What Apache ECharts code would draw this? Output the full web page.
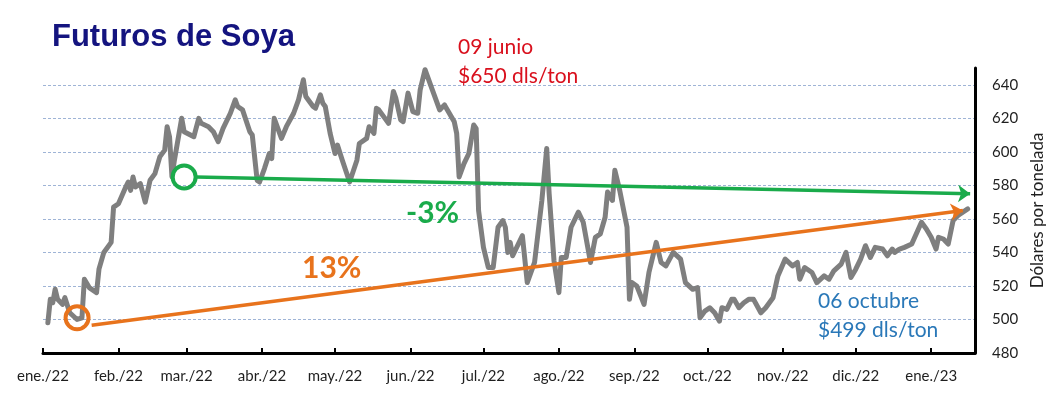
<!DOCTYPE html>
<html>
<head>
<meta charset="utf-8">
<script src="https://cdn.jsdelivr.net/npm/echarts@6/dist/echarts.min.js"></script>
<style>
html,body{margin:0;padding:0;background:#fff;}
#chart{width:1054px;height:399px;}
</style>
</head>
<body>
<div id="chart"></div>
<script>
const monthNames = ['ene.','feb.','mar.','abr.','may.','jun.','jul.','ago.','sep.','oct.','nov.','dic.'];
const yTicks = [480, 500, 520, 540, 560, 580, 600, 620, 640];
const titleText = 'Futuros de Soya';
const yAxisName = 'Dólares por tonelada';

const priceDates = [
'2022-01-03','2022-01-04','2022-01-05','2022-01-06','2022-01-07','2022-01-09','2022-01-10','2022-01-12','2022-01-15','2022-01-17',
'2022-01-18','2022-01-20','2022-01-23','2022-01-24','2022-01-26','2022-01-29','2022-01-30','2022-02-01','2022-02-04','2022-02-05',
'2022-02-06','2022-02-07','2022-02-08','2022-02-10','2022-02-12','2022-02-14','2022-02-16','2022-02-18','2022-02-20','2022-02-21',
'2022-02-22','2022-02-23','2022-02-24','2022-02-27','2022-02-28','2022-03-04','2022-03-06','2022-03-07','2022-03-10','2022-03-12',
'2022-03-14','2022-03-16','2022-03-19','2022-03-21','2022-03-22','2022-03-24','2022-03-27','2022-03-28','2022-03-30','2022-03-31',
'2022-04-02','2022-04-04','2022-04-05','2022-04-06','2022-04-09','2022-04-11','2022-04-14','2022-04-16','2022-04-18','2022-04-19',
'2022-04-22','2022-04-23','2022-04-25','2022-04-26','2022-04-27','2022-04-29','2022-05-01','2022-05-02','2022-05-04','2022-05-07',
'2022-05-10','2022-05-11','2022-05-14','2022-05-15','2022-05-17','2022-05-18','2022-05-19','2022-05-21','2022-05-23','2022-05-25',
'2022-05-26','2022-05-28','2022-05-29','2022-05-31','2022-06-02','2022-06-04','2022-06-05','2022-06-07','2022-06-10','2022-06-13',
'2022-06-15','2022-06-19','2022-06-20','2022-06-21','2022-06-23','2022-06-25','2022-06-27','2022-06-28','2022-06-29','2022-07-01',
'2022-07-03','2022-07-05','2022-07-07','2022-07-09','2022-07-10','2022-07-11','2022-07-12','2022-07-13','2022-07-17','2022-07-19',
'2022-07-22','2022-07-25','2022-07-27','2022-07-28','2022-07-30','2022-08-01','2022-08-02','2022-08-04','2022-08-06','2022-08-09',
'2022-08-11','2022-08-14','2022-08-16','2022-08-18','2022-08-20','2022-08-21','2022-08-23','2022-08-24','2022-08-26','2022-08-29',
'2022-08-30','2022-08-31','2022-09-02','2022-09-05','2022-09-07','2022-09-10','2022-09-12','2022-09-14','2022-09-17','2022-09-20',
'2022-09-22','2022-09-25','2022-09-27','2022-09-28','2022-09-30','2022-10-02','2022-10-04','2022-10-06','2022-10-07','2022-10-09',
'2022-10-11','2022-10-12','2022-10-14','2022-10-16','2022-10-18','2022-10-20','2022-10-23','2022-10-25','2022-10-28','2022-10-30',
'2022-11-02','2022-11-05','2022-11-07','2022-11-08','2022-11-10','2022-11-13','2022-11-15','2022-11-18','2022-11-20','2022-11-22',
'2022-11-25','2022-11-27','2022-11-29','2022-12-01','2022-12-03','2022-12-05','2022-12-07','2022-12-09','2022-12-12','2022-12-14',
'2022-12-16','2022-12-17','2022-12-19','2022-12-21','2022-12-24','2022-12-28','2022-12-30','2023-01-01','2023-01-03','2023-01-04',
'2023-01-06','2023-01-08','2023-01-10','2023-01-12','2023-01-16'
];
const priceValues = [
498,512,510,518,512,509,513,504,500,501,
524,519,516,530,540,546,567,569,579,582,
577,585,579,581,570,583,587,597,601,615,
609,585,595,620,612,609,620,617,615,612,
606,614,623,631,627,625,612,610,583,582,
590,599,596,620,608,615,623,631,643,633,
627,626,634,629,627,611,599,604,595,582,
595,605,608,615,611,626,625,621,617,636,
632,619,618,635,624,623,637,649,637,625,
628,618,611,585,593,599,616,614,565,543,
531,531,555,559,555,540,546,538,550,522,
534,571,602,575,535,516,537,537,555,564,
558,534,549,551,561,576,571,589,577,555,
512,522,520,509,528,546,534,532,540,536,
522,518,519,501,505,507,504,499,507,506,
512,512,507,510,512,512,504,507,513,526,
536,532,534,524,531,528,522,526,524,529,
533,540,525,530,536,544,537,543,542,538,
542,540,542,543,545,558,554,549,542,549,
548,545,559,562,566
];

// Annotation anchors (data coordinates: date, price)
const greenCircle = ['2022-02-28', 585];
const greenArrowFrom = ['2022-03-05', 585];
const greenArrowTo = ['2023-01-17', 575];
const orangeCircle = ['2022-01-15', 501];
const orangeArrowFrom = ['2022-01-21', 496.5];
const orangeArrowTo = ['2023-01-14', 565];

// Category dates (all calendar days on the axis)
const axisStart = '2022-01-01';
const axisEnd = '2023-01-19';
const categories = [];
(function(){
  let d = new Date(axisStart + 'T00:00:00Z');
  const end = new Date(axisEnd + 'T00:00:00Z');
  while (d <= end) {
    categories.push(d.toISOString().slice(0,10));
    d = new Date(d.getTime() + 86400000);
  }
})();

const seriesData = priceDates.map((d, i) => [d, priceValues[i]]);

const GREEN = '#1aab4b';
const ORANGE = '#e8731c';
const FONT = 'Lato';

const chart = echarts.init(document.getElementById('chart'), null, {renderer: 'canvas'});
const isMonthStart = (idx, val) => val.slice(8) === '01';

chart.setOption({
  animation: false,
  backgroundColor: '#ffffff',
  grid: {left: 43, right: 69, top: 68, bottom: 46, containLabel: false},
  xAxis: {
    type: 'category',
    data: categories,
    boundaryGap: false,
    axisLine: {show: true, lineStyle: {color: '#000', width: 3}},
    axisTick: {show: true, inside: true, length: 5, interval: isMonthStart, lineStyle: {color: '#000', width: 2}},
    axisLabel: {
      interval: isMonthStart,
      margin: 16,
      fontFamily: FONT, fontSize: 15, color: '#1f1f1f',
      formatter: v => monthNames[parseInt(v.slice(5,7), 10) - 1] + '/' + v.slice(2,4)
    },
    splitLine: {show: false}
  },
  yAxis: {
    type: 'value',
    position: 'right',
    min: yTicks[0],
    max: 650,
    interval: 20,
    axisLine: {show: true, lineStyle: {color: '#000', width: 3}},
    axisTick: {show: false},
    axisLabel: {showMaxLabel: false, margin: 17, fontFamily: FONT, fontSize: 15, color: '#1f1f1f'},
    splitLine: {show: true, showMaxLine: false, lineStyle: {color: '#9fb4d6', width: 1, type: [3, 2]}},
    name: yAxisName,
    nameLocation: 'middle',
    nameRotate: 90,
    nameGap: 53,
    nameTextStyle: {fontFamily: FONT, fontSize: 17, color: '#1f1f1f'}
  },
  series: [
    {
      type: 'line',
      data: seriesData,
      symbol: 'none',
      lineStyle: {color: '#7f7f7f', width: 5, join: 'round', cap: 'round'},
      z: 2
    },
    {
      type: 'line',
      data: [],
      z: 3,
      markLine: {
        silent: true,
        symbol: ['none', 'arrow'],
        symbolSize: [13, 12],
        label: {show: false},
        lineStyle: {type: 'solid', width: 3.5},
        data: [
          [{coord: greenArrowFrom, lineStyle: {color: GREEN}}, {coord: greenArrowTo, lineStyle: {color: GREEN}}],
          [{coord: orangeArrowFrom, lineStyle: {color: ORANGE}}, {coord: orangeArrowTo, lineStyle: {color: ORANGE}}]
        ]
      },
      markPoint: {
        silent: true,
        symbol: 'circle',
        symbolSize: 23,
        label: {show: false},
        data: [
          {coord: greenCircle, itemStyle: {color: 'rgba(0,0,0,0)', borderColor: GREEN, borderWidth: 4}},
          {coord: orangeCircle, itemStyle: {color: 'rgba(0,0,0,0)', borderColor: ORANGE, borderWidth: 4}}
        ]
      }
    }
  ],
  graphic: [
    {type: 'text', z: 10, style: {x: 52, y: 37, text: titleText, font: 'bold 31px "Liberation Sans"', fill: '#14147f', align: 'left', verticalAlign: 'middle'}},
    {type: 'text', z: 10, style: {x: 458, y: 47, text: '09 junio', font: '21px Lato', fill: '#d9101d', align: 'left', verticalAlign: 'middle'}},
    {type: 'text', z: 10, style: {x: 458, y: 76, text: '$650 dls/ton', font: '21px Lato', fill: '#d9101d', align: 'left', verticalAlign: 'middle'}},
    {type: 'text', z: 10, style: {x: 818, y: 301, text: '06 octubre', font: '21px Lato', fill: '#2a78b8', align: 'left', verticalAlign: 'middle'}},
    {type: 'text', z: 10, style: {x: 818, y: 330, text: '$499 dls/ton', font: '21px Lato', fill: '#2a78b8', align: 'left', verticalAlign: 'middle'}},
    {type: 'text', z: 10, style: {x: 406, y: 213, text: '-3%', font: 'bold 30px Lato', fill: GREEN, align: 'left', verticalAlign: 'middle'}},
    {type: 'text', z: 10, style: {x: 302, y: 268, text: '13%', font: 'bold 30px Lato', fill: ORANGE, align: 'left', verticalAlign: 'middle'}}
  ]
});
</script>
</body>
</html>
